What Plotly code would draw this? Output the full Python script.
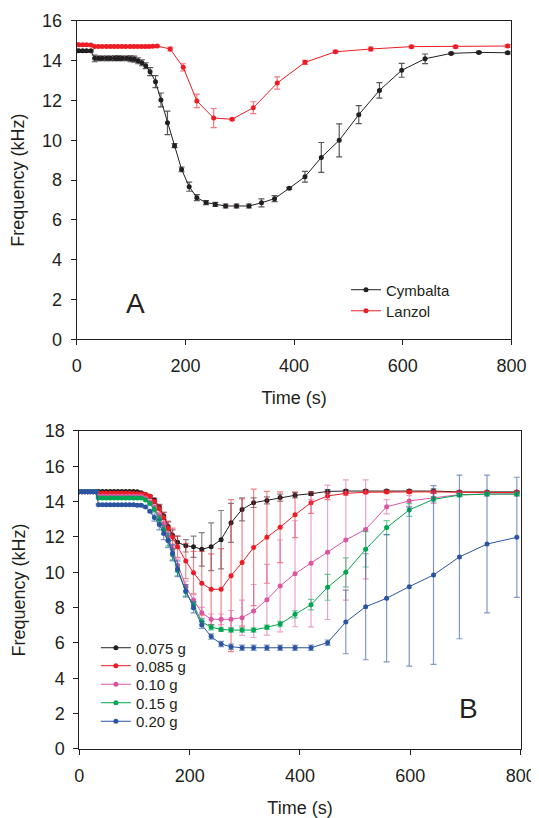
import plotly.graph_objects as go

# ---------------- Panel A data ----------------
a_cym_t = [0, 4, 11, 18, 26, 33, 40, 47, 55, 62, 70, 77, 84, 92, 99, 106, 113, 120, 127, 135, 145, 155, 167,
           180, 193, 207, 221, 238, 255, 274, 294, 317, 340, 364, 391, 420, 450, 483, 519, 557, 598, 641, 689, 740, 793]
a_cym_v = [14.5, 14.5, 14.5, 14.5, 14.5, 14.12, 14.12, 14.12, 14.12, 14.12, 14.13, 14.13, 14.12, 14.12, 14.1, 14.08, 14.0, 13.9,
           13.75, 13.45, 12.95, 12.03, 10.88, 9.73, 8.54, 7.67, 7.12, 6.87, 6.78, 6.7, 6.7, 6.7, 6.86, 7.07, 7.59, 8.17,
           9.14, 10.0, 11.29, 12.51, 13.52, 14.1, 14.37, 14.42, 14.4]
a_cym_e = [0.05, 0.05, 0.05, 0.05, 0.05, 0.17, 0.12, 0.12, 0.12, 0.12, 0.12, 0.12, 0.12, 0.12, 0.15, 0.15, 0.15, 0.15,
           0.15, 0.2, 0.3, 0.35, 0.59, 0.1, 0.12, 0.23, 0.15, 0.1, 0.1, 0.1, 0.1, 0.1, 0.2, 0.15, 0.05, 0.27,
           0.75, 0.83, 0.45, 0.39, 0.35, 0.24, 0.05, 0.05, 0.05]

a_lan_t = [0, 4, 11, 18, 26, 33, 40, 47, 55, 62, 69, 76, 83, 90, 98, 105, 112, 119, 126, 133, 140, 148, 172,
           196, 221, 252, 286, 325, 369, 420, 476, 541, 616, 697, 793]
a_lan_v = [14.8, 14.8, 14.8, 14.8, 14.79, 14.72, 14.72, 14.72, 14.72, 14.72, 14.72, 14.72, 14.72, 14.72, 14.72, 14.72, 14.72,
           14.72, 14.72, 14.72, 14.73, 14.74, 14.59, 13.67, 11.98, 11.12, 11.06, 11.64, 12.88, 13.92, 14.45, 14.59,
           14.71, 14.71, 14.74]
a_lan_e = [0.05] * 22 + [0.1, 0.18, 0.34, 0.48, 0.05, 0.3, 0.31, 0.1, 0.07, 0.1, 0.07, 0.07, 0.07]

# ---------------- Panel B data ----------------
b_t = [0, 5, 10, 15, 20, 25, 30, 35, 42, 49, 56, 63, 70, 77, 84, 91, 98, 105, 112, 120, 128, 136, 145, 153,
       161, 169, 178, 193, 207, 222, 239, 257, 275, 295, 316, 340, 364, 391, 420, 450, 483, 519, 557, 598, 642,
       689, 739, 793]

b_075_v = [14.56, 14.56, 14.56, 14.56, 14.56, 14.56, 14.56, 14.58, 14.58, 14.58, 14.58, 14.58, 14.58, 14.58, 14.58,
           14.57, 14.57, 14.56, 14.5, 14.4, 14.3, 14.1, 13.7, 13.2, 12.6, 12.1, 11.7, 11.5, 11.45, 11.3, 11.45,
           11.85, 12.8, 13.56, 13.94, 14.07, 14.23, 14.36, 14.45, 14.58, 14.6, 14.6, 14.6, 14.6, 14.6,
           14.55, 14.55, 14.55]
b_075_e = [0.05] * 21 + [0.1, 0.15, 0.2, 0.25, 0.3, 0.35, 0.35, 0.6, 0.95, 1.35, 1.65, 1.1, 0.65, 0.27, 0.2, 0.2,
                         0.15, 0.1, 0.1, 0.08, 0.08, 0.08, 0.08, 0.12, 0.05, 0.05, 0.05]

b_085_v = [14.56, 14.56, 14.56, 14.56, 14.56, 14.56, 14.56, 14.47, 14.47, 14.47, 14.47, 14.47, 14.47, 14.47, 14.47,
           14.47, 14.46, 14.45, 14.45, 14.4, 14.3, 14.0, 13.6, 13.1, 12.5, 12.0, 11.45, 10.64, 9.98, 9.38, 9.04,
           9.04, 9.81, 10.55, 11.41, 11.98, 12.55, 13.26, 13.94, 14.32, 14.47, 14.53, 14.55, 14.55, 14.55,
           14.52, 14.52, 14.52]
b_085_e = [0.05] * 21 + [0.1, 0.2, 0.3, 0.4, 0.5, 0.6, 1.0, 1.2, 1.8, 2.0, 2.3, 4.3, 3.6, 3.3, 2.6, 2.0,
                         1.3, 0.6, 0.2, 0.1, 0.08, 0.08, 0.08, 0.08, 0.08, 0.08, 0.08]

b_10_v = [14.56, 14.56, 14.56, 14.56, 14.56, 14.56, 14.56, 14.3, 14.3, 14.3, 14.3, 14.3, 14.3, 14.3, 14.3,
          14.3, 14.3, 14.3, 14.3, 14.2, 14.0, 13.7, 13.2, 12.7, 12.0, 11.3, 10.4, 9.2, 8.43, 7.71, 7.34,
          7.34, 7.34, 7.43, 7.81, 8.45, 9.23, 9.92, 10.51, 11.13, 11.83, 12.43, 13.71, 14.04, 14.2,
          14.4, 14.43, 14.43]
b_10_e = [0.05] * 21 + [0.1, 0.15, 0.2, 0.25, 0.3, 0.35, 0.3, 0.3, 0.3, 0.3, 0.3, 0.5, 1.0, 1.5, 2.0, 2.6,
                        3.0, 3.6, 3.8, 3.4, 2.8, 0.4, 0.3, 0.3, 0.1, 0.1, 0.1]

b_15_v = [14.56, 14.56, 14.56, 14.56, 14.56, 14.56, 14.56, 14.2, 14.2, 14.2, 14.2, 14.2, 14.2, 14.2, 14.2,
          14.2, 14.2, 14.2, 14.2, 14.1, 13.9, 13.55, 13.0, 12.4, 11.8, 11.0, 10.1, 8.9, 8.15, 7.21, 6.89,
          6.77, 6.73, 6.73, 6.73, 6.89, 7.07, 7.62, 8.17, 9.15, 10.0, 11.3, 12.53, 13.53, 14.13,
          14.37, 14.43, 14.43]
b_15_e = [0.05] * 21 + [0.15, 0.2, 0.25, 0.3, 0.3, 0.3, 0.25, 0.2, 0.15, 0.15, 0.12, 0.12, 0.12, 0.12, 0.12, 0.15,
                        0.2, 0.3, 0.73, 0.82, 1.0, 0.4, 0.36, 0.15, 0.1, 0.1, 0.1]

b_20_v = [14.56, 14.56, 14.56, 14.56, 14.56, 14.56, 14.56, 13.82, 13.82, 13.82, 13.82, 13.82, 13.82, 13.82, 13.82,
          13.82, 13.82, 13.8, 13.8, 13.7, 13.45, 13.1, 12.7, 12.2, 11.8, 11.1, 10.2, 8.95, 8.0, 7.02, 6.36,
          5.94, 5.79, 5.73, 5.73, 5.73, 5.73, 5.73, 5.73, 6.02, 7.19, 8.05, 8.53, 9.19, 9.85,
          10.87, 11.6, 11.98]
b_20_e = [0.05] * 21 + [0.2, 0.3, 0.35, 0.4, 0.45, 0.45, 0.35, 0.3, 0.2, 0.15, 0.15, 0.15, 0.15, 0.15, 0.15, 0.15,
                        0.15, 0.15, 0.15, 1.8, 3.0, 3.6, 4.5, 5.06, 4.63, 3.9, 3.4]

INK = "#231f20"
FONT = "Liberation Sans, Arial, sans-serif"

fig = go.Figure()


def add_series(x, y, e, name, color, ecolor, xa, ya, legend, msize=5):
    fig.add_trace(go.Scatter(
        x=x, y=y, name=name, mode="lines+markers", showlegend=True,
        line=dict(color=color, width=1),
        marker=dict(color=color, size=msize, symbol="circle"),
        error_y=dict(type="data", array=e, visible=True, color=ecolor, thickness=1.2, width=3),
        xaxis=xa, yaxis=ya, legend=legend,
    ))


add_series(a_cym_t, a_cym_v, a_cym_e, "Cymbalta", INK, "rgba(35,31,32,0.75)", "x", "y", "legend")
add_series(a_lan_t, a_lan_v, a_lan_e, "Lanzol", "#ed1c24", "rgba(237,28,36,0.6)", "x", "y", "legend2")

series_b = [
    (b_075_v, b_075_e, "0.075 g", INK, "rgba(35,31,32,0.55)"),
    (b_085_v, b_085_e, "0.085 g", "#ed1c24", "rgba(237,28,36,0.55)"),
    (b_10_v, b_10_e, "0.10 g", "#dc55a3", "rgba(220,85,163,0.55)"),
    (b_15_v, b_15_e, "0.15 g", "#00a651", "rgba(0,166,81,0.55)"),
    (b_20_v, b_20_e, "0.20 g", "#2b55a3", "rgba(43,85,163,0.6)"),
]
for i, (v, e, name, c, ec) in enumerate(series_b):
    add_series(b_t, v, e, name, c, ec, "x2", "y2", "legend%d" % (i + 3))

axis_common = dict(
    showline=True, linecolor=INK, linewidth=1, mirror=True,
    ticks="outside", ticklen=5, tickwidth=1, tickcolor=INK,
    showgrid=False, zeroline=False, automargin=False, ticklabelstandoff=5,
    tickfont=dict(family=FONT, size=18, color=INK),
    title_font=dict(family=FONT, size=18, color=INK),
)


def legend_box(x, y, size):
    return dict(x=x, y=y, xanchor="left", yanchor="middle", bgcolor="rgba(0,0,0,0)",
                font=dict(family=FONT, size=size, color=INK), itemwidth=30, visible=True)


legend_rows_b = [0.2099, 0.1877, 0.1648, 0.1420, 0.1191]

layout_legends = {
    "legend": legend_box(0.6365, 0.6519, 15),
    "legend2": legend_box(0.6365, 0.6259, 15),
}
for i, yy in enumerate(legend_rows_b):
    layout_legends["legend%d" % (i + 3)] = legend_box(0.1655, yy, 15)

fig.update_layout(
    width=531, height=810,
    showlegend=True,
    margin=dict(l=0, r=0, t=0, b=0, autoexpand=False),
    paper_bgcolor="white", plot_bgcolor="white",
    font=dict(family=FONT, color=INK),
    xaxis=dict(domain=[0.1294, 0.9482], range=[0, 800], tickvals=[0, 200, 400, 600, 800],
               title=dict(text="Time (s)", standoff=16), anchor="y", **axis_common),
    yaxis=dict(domain=[0.591, 0.984], range=[0, 16], tickvals=[0, 2, 4, 6, 8, 10, 12, 14, 16],
               title=dict(text="Frequency (kHz)", standoff=14), anchor="x", **axis_common),
    xaxis2=dict(domain=[0.1343, 0.9655], range=[0, 800], tickvals=[0, 200, 400, 600, 800],
                title=dict(text="Time (s)", standoff=16), anchor="y2", **axis_common),
    yaxis2=dict(domain=[0.0852, 0.4778], range=[0, 18], tickvals=[0, 2, 4, 6, 8, 10, 12, 14, 16, 18],
                title=dict(text="Frequency (kHz)", standoff=14), anchor="x2", **axis_common),
    annotations=[
        dict(text="A", x=108, y=1.82, xref="x", yref="y", showarrow=False,
             font=dict(family=FONT, size=28, color=INK)),
        dict(text="B", x=706, y=2.32, xref="x2", yref="y2", showarrow=False,
             font=dict(family=FONT, size=28, color=INK)),
    ],
    **layout_legends,
)

fig.write_html("out.html")
